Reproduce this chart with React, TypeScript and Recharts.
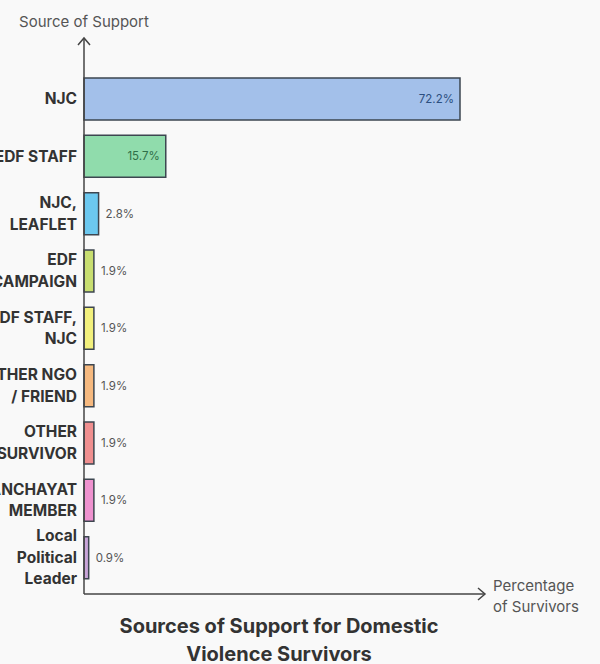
import { BarChart, Bar, XAxis, YAxis, Cell, LabelList } from "recharts";

// sources of support, "\n" marks where the axis label wraps
const sources = [
  "NJC",
  "EDF STAFF",
  "NJC,\nLEAFLET",
  "EDF\nCAMPAIGN",
  "EDF STAFF,\nNJC",
  "OTHER NGO\n/ FRIEND",
  "OTHER\nSURVIVOR",
  "PANCHAYAT\nMEMBER",
  "Local\nPolitical\nLeader",
];
const percents = [72.2, 15.7, 2.8, 1.9, 1.9, 1.9, 1.9, 1.9, 0.9];
const fills = ["#a3c0ea", "#90dcac", "#6cc8ef", "#c8de70", "#f2f07c", "#f6b97f", "#f08f8f", "#ef92cf", "#c8a4d8"];
const insideLabelColors = ["#2c4f80", "#2f6f48"];

const data = sources.map((name, i) => ({ name, value: percents[i] }));

const FONT = "Inter, Roboto, sans-serif";
const AXIS = "#444";
const SHIFT = 30; // labels run off the left edge in the reference

function SourceTick({ x, y, payload }: any) {
  const lines = String(payload.value).split("\n");
  return (
    <text x={x} y={y} textAnchor="end" fontFamily={FONT} fontSize={15.5} fontWeight={700} fill="#333">
      {lines.map((l, i) => (
        <tspan key={i} x={x} y={y + (i - (lines.length - 1) / 2) * 21.5} dy="0.36em">
          {l}
        </tspan>
      ))}
    </text>
  );
}

function YArrow({ viewBox }: any) {
  const ax = viewBox.x + viewBox.width;
  const ay = viewBox.y;
  return (
    <g>
      <path d={`M${ax - 6},${ay + 7} L${ax},${ay} L${ax + 6},${ay + 7}`} fill="none" stroke={AXIS} strokeWidth={1.5} />
      <text x={ax} y={ay - 11} textAnchor="middle" fontFamily={FONT} fontSize={15} fill="#555">
        Source of Support
      </text>
    </g>
  );
}

function XArrow({ viewBox }: any) {
  const ax = viewBox.x + viewBox.width;
  const ay = viewBox.y;
  return (
    <g>
      <path d={`M${ax - 7},${ay - 6} L${ax},${ay} L${ax - 7},${ay + 6}`} fill="none" stroke={AXIS} strokeWidth={1.5} />
      <text x={ax + 8} y={ay - 3} fontFamily={FONT} fontSize={15} fill="#555">
        Percentage
      </text>
      <text x={ax + 8} y={ay + 18} fontFamily={FONT} fontSize={15} fill="#555">
        of Survivors
      </text>
    </g>
  );
}

function ValueLabel({ x, y, width, height, value, index }: any) {
  const inside = index < 2;
  const cy = y + height / 2;
  return (
    <text
      x={inside ? x + width - 6 : x + width + 7}
      y={cy}
      dy="0.35em"
      textAnchor={inside ? "end" : "start"}
      fontFamily={FONT}
      fontSize={11.5}
      fill={inside ? insideLabelColors[index] : "#555"}
    >
      {value}%
    </text>
  );
}

export default function App() {
  return (
    <div style={{ position: "absolute", left: -SHIFT, top: 0, width: 600 + SHIFT, height: 664, background: "#f9f9f9", overflow: "hidden" }}>
      <BarChart
        width={600 + SHIFT}
        height={664}
        data={data}
        layout="vertical"
        margin={{ top: 38, right: 115, bottom: 69, left: 0 }}
        barSize={42}
      >
        <XAxis
          type="number"
          domain={[0, 77]}
          height={1}
          tick={false}
          tickLine={false}
          axisLine={{ stroke: AXIS, strokeWidth: 1.5 }}
          label={{ content: <XArrow /> } as any}
        />
        <YAxis
          type="category"
          dataKey="name"
          width={84 + SHIFT}
          padding={{ top: 32, bottom: 8 }}
          tickLine={false}
          tickSize={0}
          tickMargin={7}
          interval={0}
          tick={<SourceTick />}
          axisLine={{ stroke: AXIS, strokeWidth: 1.5 }}
          label={{ content: <YArrow /> } as any}
        />
        <Bar dataKey="value" isAnimationActive={false} stroke="#3d4650" strokeWidth={1.5}>
          {data.map((d, i) => (
            <Cell key={d.name} fill={fills[i]} />
          ))}
          <LabelList dataKey="value" content={<ValueLabel />} />
        </Bar>
      </BarChart>
      <div
        style={{
          position: "absolute",
          left: SHIFT + 60,
          width: 438,
          top: 612,
          textAlign: "center",
          fontFamily: FONT,
          fontWeight: 700,
          fontSize: 20,
          lineHeight: "28px",
          color: "#333",
        }}
      >
        Sources of Support for Domestic
        <br />
        Violence Survivors
      </div>
    </div>
  );
}
